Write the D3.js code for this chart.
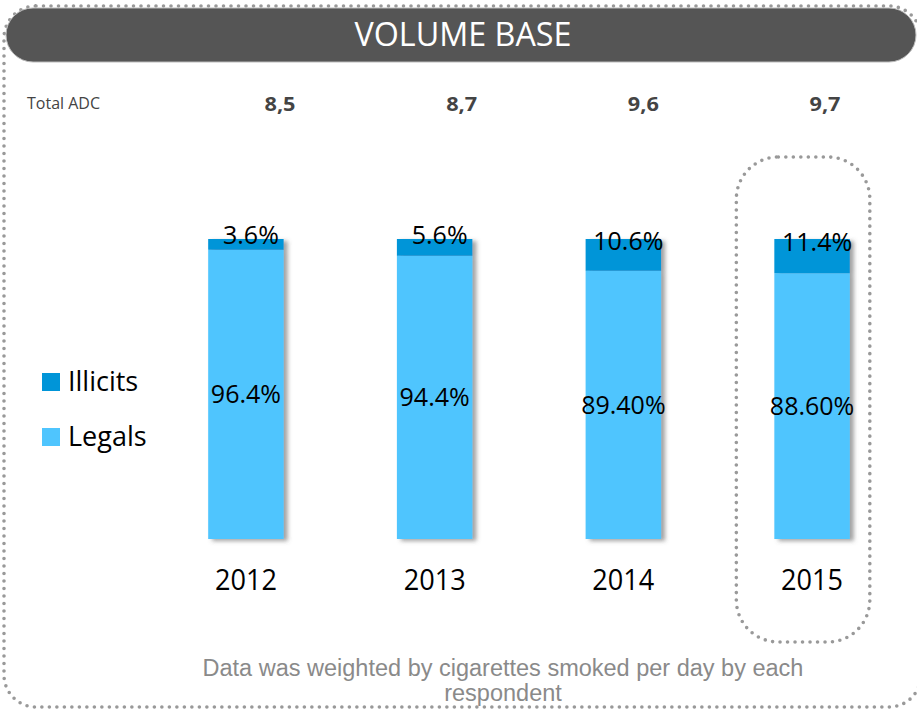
<!DOCTYPE html>
<html>
<head>
<meta charset="utf-8">
<script src="https://cdn.jsdelivr.net/npm/d3@7"></script>
<style>
  html, body { margin: 0; padding: 0; background: #fff; }
  svg { display: block; }
</style>
</head>
<body>
<div id="chart"></div>
<script>
// data
const years = ['2012', '2013', '2014', '2015']
const totalAdc = ['8,5', '8,7', '9,6', '9,7']
const illicits = [3.6, 5.6, 10.6, 11.4]
const legals = [96.4, 94.4, 89.4, 88.6]
const legalLabels = ['96.4%', '94.4%', '89.40%', '88.60%']
const illicitLabels = ['3.6%', '5.6%', '10.6%', '11.4%']
const seriesNames = ['Illicits', 'Legals']

const colors = { Illicits: '#0095d8', Legals: '#4fc5fe' }

const width = 917
const height = 710

const svg = d3.select('#chart')
  .append('svg')
  .attr('width', width)
  .attr('height', height)

// drop shadow for bars
const defs = svg.append('defs')
const shadow = defs.append('filter')
  .attr('id', 'barShadow')
  .attr('x', '-20%').attr('y', '-10%')
  .attr('width', '150%').attr('height', '130%')
shadow.append('feDropShadow')
  .attr('dx', 4).attr('dy', 2)
  .attr('stdDeviation', 2)
  .attr('flood-color', '#555')
  .attr('flood-opacity', 0.55)

const dotted = sel => sel
  .attr('fill', 'none')
  .attr('stroke', '#999')
  .attr('stroke-width', 3.6)
  .attr('stroke-linecap', 'round')
  .attr('stroke-dasharray', '0 7.5')

// outer dotted frame
svg.append('rect')
  .attr('x', 4).attr('y', 6)
  .attr('width', 917).attr('height', 701)
  .attr('rx', 32)
  .call(dotted)

// header pill
svg.append('rect')
  .attr('x', 6).attr('y', 8)
  .attr('width', 910).attr('height', 54)
  .attr('rx', 27)
  .attr('fill', '#555555')
  .attr('stroke', '#bbb')
  .attr('stroke-width', 1)

svg.append('text')
  .attr('x', 463).attr('y', 46)
  .attr('text-anchor', 'middle')
  .attr('fill', '#fff')
  .style('font-family', '"Open Sans", sans-serif')
  .style('font-size', '33px')
  .attr('textLength', 217)
  .attr('lengthAdjust', 'spacingAndGlyphs')
  .text('VOLUME BASE')

// scales
const x = d3.scaleBand()
  .domain(years)
  .range([161, 897])
  .paddingInner(0.6)
  .paddingOuter(0.25)

const y = d3.scaleLinear()
  .domain([0, 100])
  .range([539, 239])

// the ADC row is spaced a little differently from the bars
const xAdc = d3.scalePoint()
  .domain(years)
  .range([280, 825])

// highlight frame round last year
const lastX = x(years[years.length - 1])
svg.append('rect')
  .attr('x', lastX - 38).attr('y', 157)
  .attr('width', x.bandwidth() + 58).attr('height', 485)
  .attr('rx', 42)
  .call(dotted)

// Total ADC row
svg.append('text')
  .attr('x', 27).attr('y', 109)
  .attr('fill', '#444')
  .style('font-family', '"Open Sans", sans-serif')
  .style('font-size', '16px')
  .attr('textLength', 73)
  .attr('lengthAdjust', 'spacingAndGlyphs')
  .text('Total ADC')

svg.append('g')
  .selectAll('text')
  .data(years)
  .join('text')
  .attr('x', d => xAdc(d))
  .attr('y', 111)
  .attr('text-anchor', 'middle')
  .attr('fill', '#444')
  .style('font-family', '"Open Sans", sans-serif')
  .style('font-weight', 'bold')
  .style('font-size', '20px')
  .attr('textLength', 31)
  .attr('lengthAdjust', 'spacingAndGlyphs')
  .text((d, i) => totalAdc[i])

// stacked bars
const rows = years.map((yr, i) => ({ year: yr, Legals: legals[i], Illicits: illicits[i] }))
const stacked = d3.stack().keys(['Legals', 'Illicits'])(rows)

const barGroups = svg.append('g')
  .selectAll('g')
  .data(years)
  .join('g')
  .attr('filter', 'url(#barShadow)')

barGroups.selectAll('rect')
  .data((d, i) => stacked.map(s => ({ key: s.key, year: d, y0: s[i][0], y1: s[i][1] })))
  .join('rect')
  .attr('x', d => x(d.year))
  .attr('width', x.bandwidth())
  .attr('y', d => y(d.y1))
  .attr('height', d => y(d.y0) - y(d.y1))
  .attr('fill', d => colors[d.key])

// value labels
const labelFont = sel => sel
  .attr('text-anchor', 'middle')
  .attr('fill', '#000')
  .style('font-family', '"Open Sans", sans-serif')
  .style('font-size', '25px')

const legalLayer = stacked[0]
const illicitLayer = stacked[1]

svg.append('g')
  .selectAll('text')
  .data(years)
  .join('text')
  .attr('x', d => x(d) + x.bandwidth() / 2)
  .attr('y', (d, i) => (y(legalLayer[i][0]) + y(legalLayer[i][1])) / 2)
  .attr('dy', '0.35em')
  .call(labelFont)
  .text((d, i) => legalLabels[i])

svg.append('g')
  .selectAll('text')
  .data(years)
  .join('text')
  .attr('x', d => x(d) + x.bandwidth() / 2 + 5)
  .attr('y', (d, i) => Math.max((y(illicitLayer[i][0]) + y(illicitLayer[i][1])) / 2 - 14, 235))
  .attr('dy', '0.35em')
  .call(labelFont)
  .text((d, i) => illicitLabels[i])

// year labels
svg.append('g')
  .selectAll('text')
  .data(years)
  .join('text')
  .attr('x', d => x(d) + x.bandwidth() / 2)
  .attr('y', 590)
  .attr('text-anchor', 'middle')
  .attr('fill', '#000')
  .style('font-family', '"Open Sans", sans-serif')
  .style('font-size', '30px')
  .attr('textLength', 62)
  .attr('lengthAdjust', 'spacingAndGlyphs')
  .text(d => d)

// legend
const legend = svg.append('g')
  .selectAll('g')
  .data(seriesNames)
  .join('g')
  .attr('transform', (d, i) => `translate(42, ${373 + i * 55})`)

legend.append('rect')
  .attr('width', 18).attr('height', 18)
  .attr('fill', d => colors[d])

legend.append('text')
  .attr('x', 26).attr('y', 9)
  .attr('dy', '0.35em')
  .attr('fill', '#000')
  .style('font-family', '"Open Sans", sans-serif')
  .style('font-size', '27px')
  .text(d => d)

// footnote
const note = svg.append('text')
  .attr('text-anchor', 'middle')
  .attr('fill', '#8a8a8a')
  .style('font-family', '"Liberation Sans", Arial, sans-serif')
  .style('font-size', '23.5px')
note.append('tspan').attr('x', 503).attr('y', 676)
  .text('Data was weighted by cigarettes smoked per day by each')
note.append('tspan').attr('x', 503).attr('y', 701)
  .text('respondent')
</script>
</body>
</html>
